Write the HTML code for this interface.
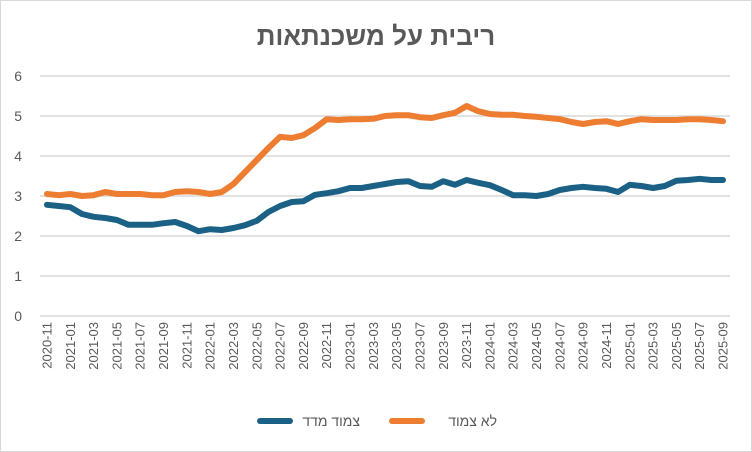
<!DOCTYPE html>
<html><head><meta charset="utf-8"><style>
body{margin:0;background:#fff;}
svg{display:block;font-family:"Liberation Sans",sans-serif;}
</style></head><body>
<svg id="c" width="752" height="452" xmlns="http://www.w3.org/2000/svg">
<rect x="0.5" y="0.5" width="751" height="451" fill="#fff" stroke="#d9d9d9"/>
<text x="376" y="45" text-anchor="middle" font-size="26" font-weight="bold" fill="#595959" direction="rtl">ריבית על משכנתאות</text>
<g id="grid"></g>
<g id="lab"></g>
<polyline id="o" fill="none" stroke="#ed7d31" stroke-width="6" stroke-linejoin="round" stroke-linecap="round"/>
<polyline id="b" fill="none" stroke="#1a6185" stroke-width="6" stroke-linejoin="round" stroke-linecap="round"/>
<line x1="260" y1="421" x2="290" y2="421" stroke="#1a6185" stroke-width="6" stroke-linecap="round"/>
<text x="360" y="426" text-anchor="end" font-size="14" fill="#595959">צמוד מדד</text>
<line x1="392" y1="421" x2="422" y2="421" stroke="#ed7d31" stroke-width="6" stroke-linecap="round"/>
<text x="497" y="426" text-anchor="end" font-size="14" fill="#595959">לא צמוד</text>
</svg>
<script>
var O=[3.05,3.02,3.05,3.0,3.02,3.1,3.05,3.05,3.05,3.02,3.02,3.1,3.12,3.1,3.05,3.1,3.3,3.6,3.9,4.2,4.48,4.45,4.52,4.7,4.92,4.9,4.92,4.92,4.93,5.0,5.02,5.02,4.97,4.95,5.02,5.08,5.25,5.12,5.05,5.03,5.03,5.0,4.98,4.95,4.92,4.85,4.8,4.85,4.87,4.8,4.87,4.92,4.9,4.9,4.9,4.92,4.92,4.9,4.87];
var B=[2.78,2.75,2.72,2.55,2.48,2.45,2.4,2.28,2.28,2.28,2.32,2.35,2.25,2.12,2.17,2.15,2.2,2.27,2.38,2.6,2.75,2.85,2.87,3.03,3.07,3.12,3.2,3.2,3.25,3.3,3.35,3.37,3.25,3.23,3.37,3.28,3.4,3.33,3.27,3.15,3.02,3.02,3.0,3.05,3.15,3.2,3.23,3.2,3.18,3.1,3.28,3.25,3.2,3.25,3.38,3.4,3.43,3.4,3.4];
var ns="http://www.w3.org/2000/svg";
function X(i){return 47+i*(723-47)/58;}
function Y(v){return 316-v*40;}
function pts(a){return a.map(function(v,i){return X(i).toFixed(1)+","+Y(v).toFixed(1)}).join(" ");}
document.getElementById("o").setAttribute("points",pts(O));
document.getElementById("b").setAttribute("points",pts(B));
var g=document.getElementById("grid"),l=document.getElementById("lab");
for(var k=0;k<=6;k++){
 var y=Y(k);
 var ln=document.createElementNS(ns,"line");
 ln.setAttribute("x1",40);ln.setAttribute("x2",730);ln.setAttribute("y1",y);ln.setAttribute("y2",y);
 ln.setAttribute("stroke","#d9d9d9");ln.setAttribute("stroke-width","1.5");g.appendChild(ln);
 var t=document.createElementNS(ns,"text");
 t.setAttribute("x",22);t.setAttribute("y",y+5);t.setAttribute("text-anchor","end");
 t.setAttribute("font-size","14");t.setAttribute("fill","#595959");t.textContent=k;l.appendChild(t);
}
var yr=2020,m=11;
for(var i=0;i<59;i++){
 if(i%2==0){
  var s=yr+"-"+(m<10?"0":"")+m;
  var t=document.createElementNS(ns,"text");
  var x=X(i)+4.5;
  t.setAttribute("transform","translate("+x+",322) rotate(-90)");
  t.setAttribute("text-anchor","end");t.setAttribute("font-size","13");t.setAttribute("fill","#595959");
  t.textContent=s;l.appendChild(t);
 }
 m++;if(m>12){m=1;yr++;}
}
</script>
</body></html>
